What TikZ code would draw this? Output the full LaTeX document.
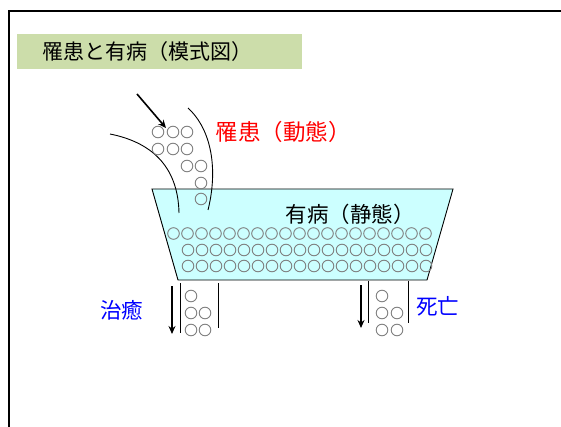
\documentclass[tikz,border=0pt]{standalone}
\usepackage{fontspec}
\newfontfamily\jp{Noto Sans CJK JP}
\usetikzlibrary{arrows.meta}
\definecolor{titlegreen}{HTML}{CCDDAA}
\definecolor{tankfill}{HTML}{CCFFFF}
\definecolor{ballgray}{HTML}{7F7F7F}
\definecolor{flowred}{HTML}{FF0000}
\definecolor{flowblue}{HTML}{0000FF}
\tikzset{
  ball/.style={circle, draw=ballgray, line width=0.9pt, minimum size=11.6pt, inner sep=0pt},
  wall/.style={line width=0.9pt},
  flowarrow/.style={line width=1.6pt, -{Stealth[length=8pt,width=7pt]}},
  lbl/.style={inner sep=0pt, anchor=west, font=\jp}
}
\begin{document}
\begin{tikzpicture}[x=1pt,y=-1pt]
\useasboundingbox (0,0) rectangle (561,427);
% frame
\draw[line width=2.6pt] (9,427) -- (9,11) -- (561,11);
% title
\fill[titlegreen] (17,34) rectangle (302,69);
\node[lbl, font=\jp\fontsize{21}{24}\selectfont] (title) at (42,51.5) {罹患と有病（模式図）};
% tank
\draw[wall, fill=tankfill] (152,189) -- (453,189) -- (427,280) -- (178,280) -- cycle;
\foreach \i in {0,...,18} { \node[ball] (r1c\i) at (173.5+14*\i,233.5) {}; }
\foreach \i in {0,...,17} { \node[ball] (r2c\i) at (188+14*\i,250) {}; }
\foreach \i in {0,...,17} { \node[ball] (r3c\i) at (188+14*\i,266) {}; }
\node[lbl, font=\jp\fontsize{21.5}{24}\selectfont] (prev) at (285.5,214.5) {有病（静態）};
% inflow
\draw[wall] (110,134) .. controls (150,142) and (178,165) .. (179,213);
\draw[wall] (188,108) .. controls (212,130) and (218,170) .. (208,210);
\foreach \p/\n in {{158,132}/a1,{173,132}/a2,{187,132}/a3,{158,149}/b1,{173,149}/b2,{187,149}/b3,{187,166}/c1,{201,166}/c2,{201,183}/d1,{201,199}/e1}
  { \node[ball] (in\n) at (\p) {}; }
\coordinate (inA) at (137,94);
\coordinate (inB) at (166,128);
\draw[flowarrow] (inA) -- (inB);
\node[lbl, font=\jp\fontsize{22.5}{24}\selectfont, text=flowred] (inc) at (215.5,131.5) {罹患（動態）};
% outflow left (cure)
\draw[wall] (180,283) -- (180,333);
\draw[wall] (218,283) -- (218,328);
\node[ball] (la1) at (191,296) {};
\node[ball] (lb1) at (191,313) {};
\node[ball] (lb2) at (205,313) {};
\node[ball] (lc1) at (191,330) {};
\node[ball] (lc2) at (205,330) {};
\coordinate (lA) at (172,286);
\coordinate (lB) at (172,334);
\draw[flowarrow] (lA) -- (lB);
\node[lbl, font=\jp\fontsize{21.5}{24}\selectfont, text=flowblue] (cure) at (100,310) {治癒};
% outflow right (death)
\draw[wall] (368,281) -- (368,323);
\draw[wall] (408,281) -- (408,323);
\node[ball] (ra1) at (382,296) {};
\node[ball] (rb1) at (382,313) {};
\node[ball] (rb2) at (397,313) {};
\node[ball] (rc1) at (382,330) {};
\node[ball] (rc2) at (397,330) {};
\coordinate (rA) at (361,285);
\coordinate (rB) at (361,328);
\draw[flowarrow] (rA) -- (rB);
\node[lbl, font=\jp\fontsize{21.5}{24}\selectfont, text=flowblue] (death) at (416,306) {死亡};
\end{tikzpicture}
\end{document}
